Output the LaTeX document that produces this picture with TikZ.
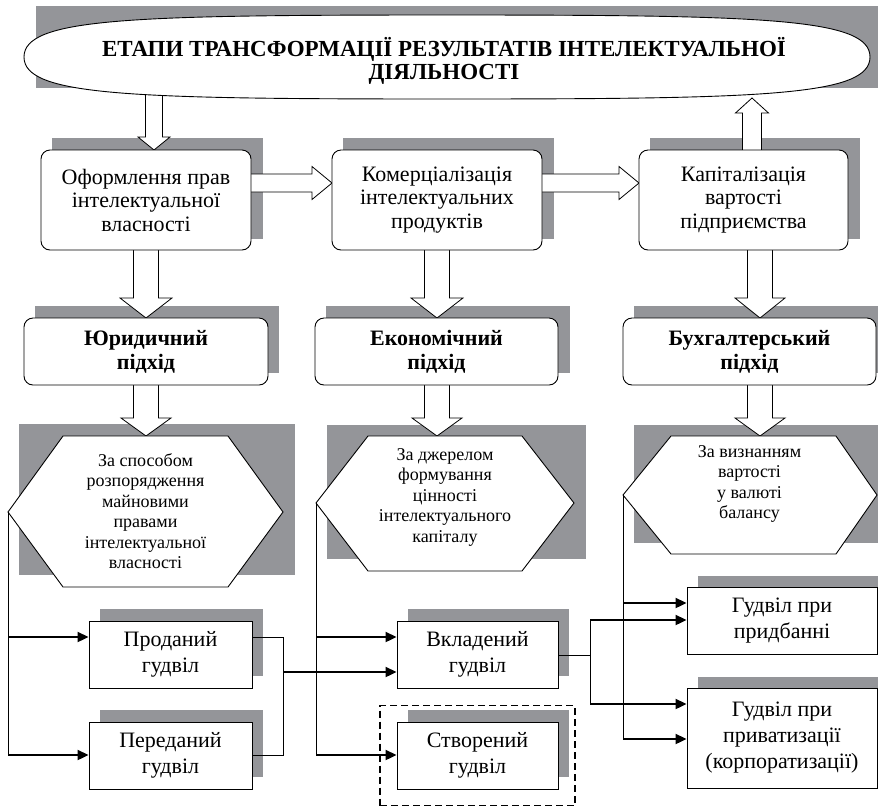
\documentclass[tikz,border=0pt]{standalone}
\usepackage{fontspec}
\setmainfont{Liberation Serif}
\usetikzlibrary{arrows.meta}
\definecolor{shadegray}{RGB}{148,149,153}
\newcommand{\vblockarrow}[6]{% cx, ystart, ytip, shaft half, head half, head length
  \draw[blockarrow] ({#1-#4},#2) -- ({#1-#4},{#3-(#6)}) -- ({#1-#5},{#3-(#6)}) -- (#1,#3) -- ({#1+#5},{#3-(#6)}) -- ({#1+#4},{#3-(#6)}) -- ({#1+#4},#2);}
\newcommand{\hblockarrow}[6]{% xstart, xtip, cy, shaft half, head half, head length
  \draw[blockarrow] (#1,{#3-#4}) -- ({#2-#6},{#3-#4}) -- ({#2-#6},{#3-#5}) -- (#2,#3) -- ({#2-#6},{#3+#5}) -- ({#2-#6},{#3+#4}) -- (#1,{#3+#4});}
\tikzset{
  shadowfill/.style={fill=shadegray, draw=none},
  roundbox/.style={draw=black, line width=0.9pt, fill=white, rounded corners=9pt, inner sep=0pt, align=center, font=\fontsize{22}{23.5}\selectfont},
  boldbox/.style={roundbox, font=\bfseries\fontsize{22}{24}\selectfont},
  plainbox/.style={draw=black, line width=0.9pt, fill=white, inner sep=0pt, align=center, font=\fontsize{22}{26}\selectfont},
  hexshape/.style={draw=black, line width=0.9pt, fill=white},
  hextext/.style={align=center, inner sep=0pt, font=\fontsize{18}{20.5}\selectfont},
  titletext/.style={align=center, inner sep=0pt, font=\bfseries\fontsize{23}{22.5}\selectfont},
  blockarrow/.style={draw=black, line width=0.8pt, fill=white},
  thinline/.style={draw=black, line width=1pt},
  feed/.style={draw=black, line width=2pt, -{Triangle[length=11pt,width=10pt]}},
  dashframe/.style={draw=black, line width=1.6pt, dash pattern=on 7pt off 4pt, fill=none},
}
\begin{document}
\begin{tikzpicture}[x=1pt,y=-1pt]
\useasboundingbox (0,0) rectangle (878,807);
% ---------- shadows ----------
\fill[shadowfill] (36,6) rectangle (878,88);
\fill[shadowfill] (52,138) rectangle (263,239);
\fill[shadowfill] (343,138) rectangle (554,239);
\fill[shadowfill] (650,138) rectangle (860,239);
\fill[shadowfill] (35,306) rectangle (279,373);
\fill[shadowfill] (326,306) rectangle (570,373);
\fill[shadowfill] (634,306) rectangle (878,373);
\fill[shadowfill] (19,424) rectangle (295,575);
\fill[shadowfill] (327,425) rectangle (586,559);
\fill[shadowfill] (634,425) rectangle (878,543);
\fill[shadowfill] (100,609) rectangle (263,676);
\fill[shadowfill] (100,710) rectangle (263,777);
\fill[shadowfill] (408,609) rectangle (569,676);
\fill[shadowfill] (408,710) rectangle (569,777);
\fill[shadowfill] (698,576) rectangle (878,642);
\fill[shadowfill] (698,677) rectangle (878,776);
% ---------- block arrows ----------
\vblockarrow{154}{90}{150}{8.5}{16}{13}
\hblockarrow{245}{332}{183}{9}{16.5}{20}
\hblockarrow{536}{639}{183}{9}{16.5}{20}
\vblockarrow{752}{156}{98}{9.5}{16.5}{-15}
\vblockarrow{146}{245}{318}{12.5}{26}{20}
\vblockarrow{437}{245}{318}{12.5}{26}{20}
\vblockarrow{760}{245}{318}{12.5}{25}{20}
\vblockarrow{146}{380}{436}{12.5}{25}{18}
\vblockarrow{437}{380}{436}{12.5}{25}{18}
\vblockarrow{760}{380}{436}{12.5}{25}{18}
% ---------- title ellipse ----------
\draw[hexshape] (24,57) .. controls (24,18) and (130,15) .. (447,15)
  .. controls (764,15) and (870,18) .. (870,57)
  .. controls (870,96) and (764,99) .. (447,99)
  .. controls (130,99) and (24,96) .. (24,57) -- cycle;
\node[titletext] (title) at (444,61) {ЕТАПИ ТРАНСФОРМАЦІЇ РЕЗУЛЬТАТІВ ІНТЕЛЕКТУАЛЬНОЇ\\ДІЯЛЬНОСТІ};
% ---------- stage boxes ----------
\node[roundbox, minimum width=210, minimum height=100] (b1) at (146,200) {Оформлення прав\\інтелектуальної\\власності};
\node[roundbox, minimum width=210, minimum height=100] (b2) at (437,200) {Комерціалізація\\інтелектуальних\\продуктів};
\node[roundbox, minimum width=209, minimum height=100] (b3) at (743.5,200) {Капіталізація\\вартості\\підприємства};
% ---------- approach boxes ----------
\node[boldbox, minimum width=244, minimum height=67] (r2a) at (146,351.5) {Юридичний\\підхід};
\node[boldbox, minimum width=243, minimum height=67] (r2b) at (436.5,351.5) {Економічний\\підхід};
\node[boldbox, minimum width=253, minimum height=67] (r2c) at (749.5,351.5) {Бухгалтерський\\підхід};
% ---------- hexagons ----------
\coordinate (h1w) at (8,512);
\coordinate (h2w) at (316,503);
\coordinate (h3w) at (623,495);
\draw[hexshape] (h1w) -- (63,436) -- (228,436) -- (283,512) -- (228,587) -- (63,587) -- cycle;
\draw[hexshape] (h2w) -- (368,436) -- (522,436) -- (574,503) -- (522,571) -- (368,571) -- cycle;
\draw[hexshape] (h3w) -- (671,436) -- (836,436) -- (877,495) -- (836,554) -- (671,554) -- cycle;
\node[hextext] (hex1) at (145.5,511) {За способом\\розпорядження\\майновими\\правами\\інтелектуальної\\власності};
\node[hextext] (hex2) at (445,497) {За джерелом\\формування\\цінності\\інтелектуального\\капіталу};
\node[hextext] (hex3) at (749.5,484) {За визнанням\\вартості\\у валюті\\балансу};
% ---------- goodwill boxes ----------
\node[plainbox, minimum width=163, minimum height=67] (prod) at (170.5,654.5) {Проданий\\гудвіл};
\node[plainbox, minimum width=163, minimum height=67] (pered) at (170.5,755.5) {Переданий\\гудвіл};
\node[plainbox, minimum width=161, minimum height=67] (vkl) at (477.5,654.5) {Вкладений\\гудвіл};
\node[plainbox, minimum width=161, minimum height=67] (stv) at (477.5,755.5) {Створений\\гудвіл};
\node[plainbox, minimum width=190, minimum height=67] (prydb) at (782,620.5) {Гудвіл при\\придбанні};
\node[plainbox, minimum width=190, minimum height=100] (pryvat) at (782,738) {Гудвіл при\\приватизації\\(корпоратизації)};
\node[dashframe, minimum width=195, minimum height=100, inner sep=0pt] (frame) at (477.5,755.5) {};
% ---------- connectors: left ----------
\coordinate (l1) at (8,637);
\coordinate (l2) at (8,755);
\draw[thinline] (h1w) -- (l2);
\draw[feed] (l1) -- (l1 -| prod.west);
\draw[feed] (l2) -- (l2 -| pered.west);
\coordinate (m1) at (283,637);
\coordinate (m2) at (283,755);
\coordinate (m3) at (283,672);
\draw[thinline] (m1 -| prod.east) -- (m1) -- (m2) -- (m2 -| pered.east);
\draw[feed] (m3) -- (m3 -| vkl.west);
% ---------- connectors: middle ----------
\coordinate (c1) at (316,637);
\coordinate (c2) at (316,755);
\draw[thinline] (h2w) -- (c2);
\draw[feed] (c1) -- (c1 -| vkl.west);
\draw[feed] (c2) -- (c2 -| stv.west);
\coordinate (v0) at (590,655);
\coordinate (v1) at (590,620);
\coordinate (v2) at (590,704);
\draw[thinline] (v0 -| vkl.east) -- (v0);
\draw[thinline] (v1) -- (v2);
\draw[feed] (v1) -- (v1 -| prydb.west);
\draw[feed] (v2) -- (v2 -| pryvat.west);
% ---------- connectors: right ----------
\coordinate (r1) at (623,603);
\coordinate (r2) at (623,739);
\draw[thinline] (h3w) -- (r2);
\draw[feed] (r1) -- (r1 -| prydb.west);
\draw[feed] (r2) -- (r2 -| pryvat.west);
\end{tikzpicture}
\end{document}
